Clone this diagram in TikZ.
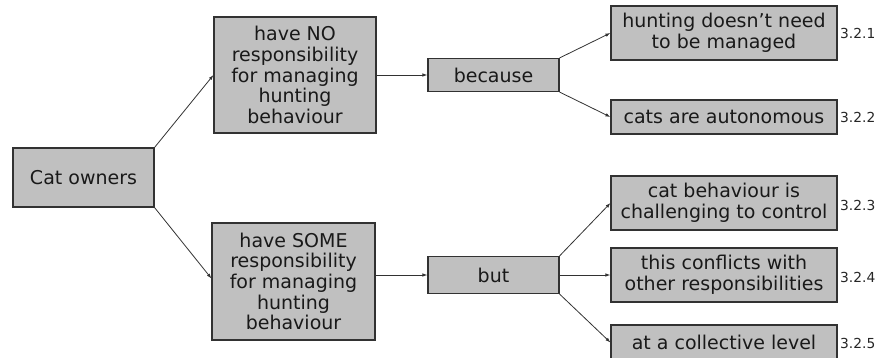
\documentclass[tikz,border=0pt]{standalone}
\usepackage{fontspec}
\setmainfont{DejaVu Sans}
\usepackage{xcolor}
\usetikzlibrary{arrows.meta}
\definecolor{boxgray}{RGB}{192,192,192}
\definecolor{edgegray}{RGB}{50,50,50}
\tikzset{
	box/.style={draw=edgegray, line width=1.1pt, fill=boxgray, align=center, inner sep=0pt, text=black!90, font=\fontsize{19}{20.7}\selectfont},
	link/.style={edgegray, line width=0.8pt, -{Latex[length=5pt,width=3.5pt]}},
	tag/.style={anchor=west, inner sep=0pt, text=black!85, font=\fontsize{13.8}{15}\selectfont}
}
\begin{document}
\begin{tikzpicture}[x=1pt,y=-1pt]
	\useasboundingbox (0,0) rectangle (891,357);

	\node[box, minimum width=141pt, minimum height=59pt] (owners) at (83.5,177.5) {Cat owners};
	\node[box, minimum width=162pt, minimum height=116pt] (none) at (295,75) {have NO\\responsibility\\for managing\\hunting\\behaviour};
	\node[box, minimum width=163pt, minimum height=117pt] (some) at (293.5,281.5) {have SOME\\responsibility\\for managing\\hunting\\behaviour};
	\node[box, minimum width=131pt, minimum height=33pt] (because) at (493.5,75) {because};
	\node[box, minimum width=131pt, minimum height=37pt] (but) at (493.5,275) {but};

	% reasons
	\node[box, minimum width=226pt, minimum height=54pt] (r1) at (724,33) {hunting doesn’t need\\to be managed};
	\node[box, minimum width=226pt, minimum height=34pt] (r2) at (724,117) {cats are autonomous};
	\node[box, minimum width=226pt, minimum height=54pt] (r3) at (724,203) {cat behaviour is\\challenging to control};
	\node[box, minimum width=226pt, minimum height=54pt] (r4) at (724,275) {this conflicts with\\other responsibilities};
	\node[box, minimum width=226pt, minimum height=35pt] (r5) at (724,342.5) {at a collective level};

	\node[tag] (t1) at (840,33) {3.2.1};
	\node[tag] (t2) at (840,117) {3.2.2};
	\node[tag] (t3) at (840,205) {3.2.3};
	\node[tag] (t4) at (840,277) {3.2.4};
	\node[tag] (t5) at (840,343) {3.2.5};

	\draw[link] (owners.north east) -- (none.west);
	\draw[link] (owners.south east) -- ([yshift=3pt]some.west);
	\draw[link] (none.east) -- (because.west);
	\draw[link] (some.east |- but.west) -- (but.west);
	\draw[link] (because.north east) -- (r1.west);
	\draw[link] (because.south east) -- (r2.west);
	\draw[link] (but.north east) -- (r3.west);
	\draw[link] (but.east) -- (r4.west);
	\draw[link] (but.south east) -- (r5.west);
\end{tikzpicture}
\end{document}
